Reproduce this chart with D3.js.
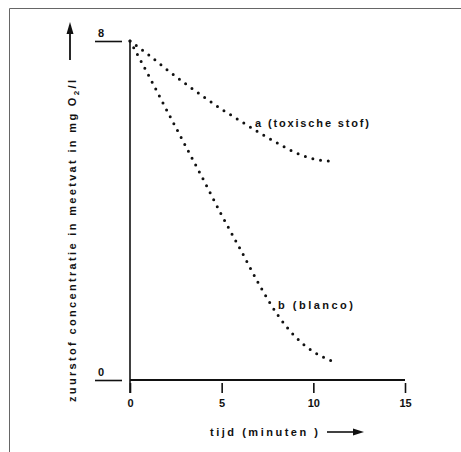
<!DOCTYPE html>
<html>
<head>
<meta charset="utf-8">
<script src="https://cdn.jsdelivr.net/npm/d3@7"></script>
<style>
  body { margin: 0; background: #fff; }
  text { font-family: "Liberation Sans", Arial, sans-serif; font-weight: bold; fill: #111; }
</style>
</head>
<body>
<div id="chart"></div>
<script>
// data
const tijd = [0, 1, 2, 3, 4, 5, 6, 7, 8, 9, 10, 11];
const toxisch = [8, 7.68, 7.33, 7.0, 6.69, 6.39, 6.12, 5.85, 5.6, 5.37, 5.22, 5.16];
const blanco = [8, 7.2, 6.37, 5.55, 4.73, 3.89, 3.1, 2.29, 1.57, 1.03, 0.67, 0.45];
const xTicks = [0, 5, 10, 15];
const yTicks = [0, 8];

const W = 461, H = 452;

const svg = d3.select("#chart").append("svg")
  .attr("width", W)
  .attr("height", H);

// frame (top and left edge only)
svg.append("path")
  .attr("d", `M9.5,${H} V8.5 H${W}`)
  .attr("fill", "none")
  .attr("stroke", "#666")
  .attr("stroke-width", 1);

const x = d3.scaleLinear().domain([0, 15]).range([130, 405]);
const y = d3.scaleLinear().domain([0, 8]).range([380, 41]);

// x axis
const xAxis = svg.append("g")
  .attr("transform", `translate(0,${y(0)})`)
  .call(d3.axisBottom(x).tickValues(xTicks).tickSize(13).tickPadding(6));
xAxis.select(".domain").remove();
xAxis.selectAll(".tick line").attr("y1", 3).attr("stroke", "#111").attr("stroke-width", 1.6);
xAxis.selectAll(".tick text").style("font-size", "11px").attr("fill", "#111");

svg.append("line")
  .attr("x1", x(0)).attr("x2", x(15))
  .attr("y1", y(0)).attr("y2", y(0))
  .attr("stroke", "#111").attr("stroke-width", 2.2);

// y axis line (runs a little below the x axis)
svg.append("line")
  .attr("x1", x(0)).attr("x2", x(0))
  .attr("y1", y(8)).attr("y2", y(0) + 13)
  .attr("stroke", "#111").attr("stroke-width", 1.6);

// y ticks: short lines left of the axis with the label on top
const yAxis = svg.append("g")
  .attr("transform", `translate(${x(0)},0)`)
  .call(d3.axisLeft(y).tickValues(yTicks).tickSize(0));
yAxis.select(".domain").remove();
yAxis.selectAll(".tick line")
  .attr("x1", -35).attr("x2", -8)
  .attr("stroke", "#111").attr("stroke-width", 1.6);
yAxis.selectAll(".tick text")
  .attr("x", -32).attr("dy", -5)
  .attr("text-anchor", "start")
  .style("font-size", "11px").attr("fill", "#111");

// dotted curves
const line = d3.line()
  .x((d, i) => x(tijd[i]))
  .y(d => y(d))
  .curve(d3.curveMonotoneX);

[toxisch, blanco].forEach(serie => {
  svg.append("path")
    .datum(serie)
    .attr("d", line)
    .attr("fill", "none")
    .attr("stroke", "#111")
    .attr("stroke-width", 3)
    .attr("stroke-linecap", "round")
    .attr("stroke-dasharray", "0,7.8");
});

// curve labels
svg.append("text")
  .attr("x", 255).attr("y", 127)
  .style("font-size", "11px")
  .attr("textLength", 114)
  .text("a (toxische stof)");

svg.append("text")
  .attr("x", 278).attr("y", 309)
  .style("font-size", "11px")
  .attr("textLength", 75)
  .text("b (blanco)");

// x axis title with arrow
svg.append("text")
  .attr("x", 210).attr("y", 436)
  .style("font-size", "11px")
  .attr("textLength", 108)
  .text("tijd (minuten )");

svg.append("line")
  .attr("x1", 327).attr("x2", 356)
  .attr("y1", 432).attr("y2", 432)
  .attr("stroke", "#111").attr("stroke-width", 1.6);
svg.append("path")
  .attr("d", "M364,432 L353,428.5 L353,435.5 Z")
  .attr("fill", "#111");

// y axis title with arrow
const yTitle = svg.append("text")
  .attr("transform", "translate(76,241) rotate(-90)")
  .attr("text-anchor", "middle")
  .style("font-size", "11px")
  .attr("textLength", 322);
yTitle.append("tspan").text("zuurstof concentratie in meetvat in mg O");
yTitle.append("tspan").attr("dy", 3).style("font-size", "8px").text("2");
yTitle.append("tspan").attr("dy", -3).text("/l");

svg.append("line")
  .attr("x1", 70).attr("x2", 70)
  .attr("y1", 60).attr("y2", 32)
  .attr("stroke", "#111").attr("stroke-width", 1.8);
svg.append("path")
  .attr("d", "M70,22 L66.5,34 L73.5,34 Z")
  .attr("fill", "#111");
</script>
</body>
</html>
